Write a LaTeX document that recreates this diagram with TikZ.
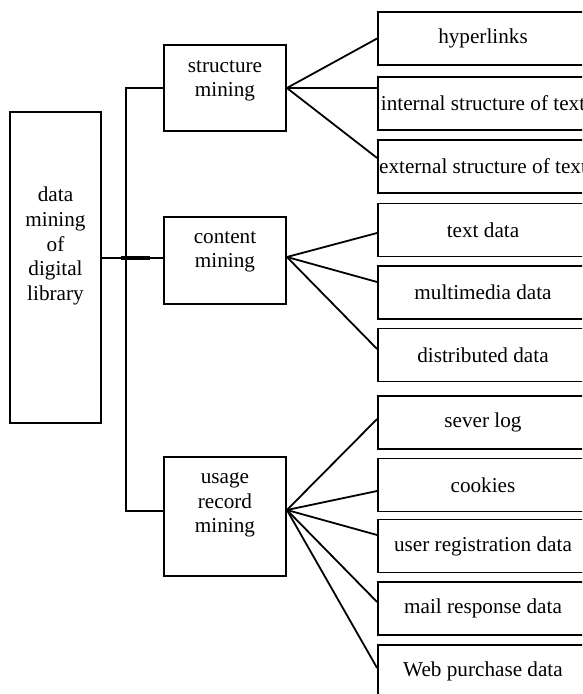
\documentclass[tikz,border=0pt]{standalone}
\usepackage{fontspec}
\setmainfont{Liberation Serif}
\usetikzlibrary{calc}

\begin{document}
\begin{tikzpicture}[x=0.5pt,y=-0.5pt,line width=0.9pt,
    font=\fontsize{10.6pt}{12.3pt}\selectfont,
    box/.style={rectangle,draw,inner sep=0pt},
    leaf/.style={box,minimum width=105pt,minimum height=26.5pt},
    branch/.style={box,minimum width=61pt,minimum height=#1}]
    \useasboundingbox (0,0) rectangle (582,694);
    \clip (0,0) rectangle (582,694);
    \node [box,minimum width=45.5pt,minimum height=155.5pt,
      label={[align=center,yshift=10.75pt]center:data\\mining\\of\\digital\\library}] (library) at (55.5,267.5) {};
    \node [branch=43pt,label={[align=center,yshift=3.5pt]center:structure\\mining}] (structure) at (225,88) {};
    \node [branch=43.5pt,label={[align=center,yshift=4.25pt]center:content\\mining}] (content) at (225,260.5) {};
    \node [branch=59.5pt,label={[align=center,yshift=5.75pt]center:usage\\record\\mining}] (usage) at (225,516.5) {};
    \node [leaf] (hyperlinks) at (483,38.5) {hyperlinks};
    \node [leaf, below of=hyperlinks,node distance=32.5pt] (internal) {internal structure of text};
    \node [leaf, below of=internal,node distance=31.5pt] (external) {external structure of text};
    \node [leaf, below of=external,node distance=31.75pt] (textdata) {text data};
    \node [leaf, below of=textdata,node distance=31.25pt] (multimedia) {multimedia data};
    \node [leaf, below of=multimedia,node distance=31.25pt] (distributed) {distributed data};
    \node [leaf, below of=distributed,node distance=33.75pt] (severlog) {sever log};
    \node [leaf, below of=severlog,node distance=31.25pt] (cookies) {cookies};
    \node [leaf, below of=cookies,node distance=30.5pt] (registration) {user registration data};
    \node [leaf, below of=registration,node distance=31.25pt] (mail) {mail response data};
    \node [leaf, below of=mail,node distance=31.5pt] (purchase) {Web purchase data};
    % trunk joining the three branches
    \coordinate (trunkBottom) at (126,511);
    \coordinate (contentIn) at ([yshift=1.25pt]content.west);
    \draw (structure.west) -| (trunkBottom) -- (usage.west |- trunkBottom);
    \draw (library.east |- contentIn) -- (contentIn);
    \draw [line width=2pt] ($(library.east |- contentIn)+(19,0)$) -- ++(29,0);
    % fans out to the leaves
    \coordinate (contentFan) at ([yshift=1.75pt]content.east);
    \coordinate (usageFan) at ([yshift=3.25pt]usage.east);
    \draw (structure.east) -- (hyperlinks.west);
    \draw (structure.east) -- (internal.west |- structure.east);
    \draw (structure.east) -- ([yshift=4.25pt]external.west);
    \draw (contentFan) -- ([yshift=-1.5pt]textdata.west);
    \draw (contentFan) -- ([yshift=5.25pt]multimedia.west);
    \draw (contentFan) -- ([yshift=3pt]distributed.west);
    \draw (usageFan) -- ([yshift=1.75pt]severlog.west);
    \draw (usageFan) -- ([yshift=-3pt]cookies.west);
    \draw (usageFan) -- ([yshift=5.5pt]registration.west);
    \draw (usageFan) -- ([yshift=3.25pt]mail.west);
    \draw (usageFan) -- ([yshift=1.75pt]purchase.west);
\end{tikzpicture}
\end{document}
